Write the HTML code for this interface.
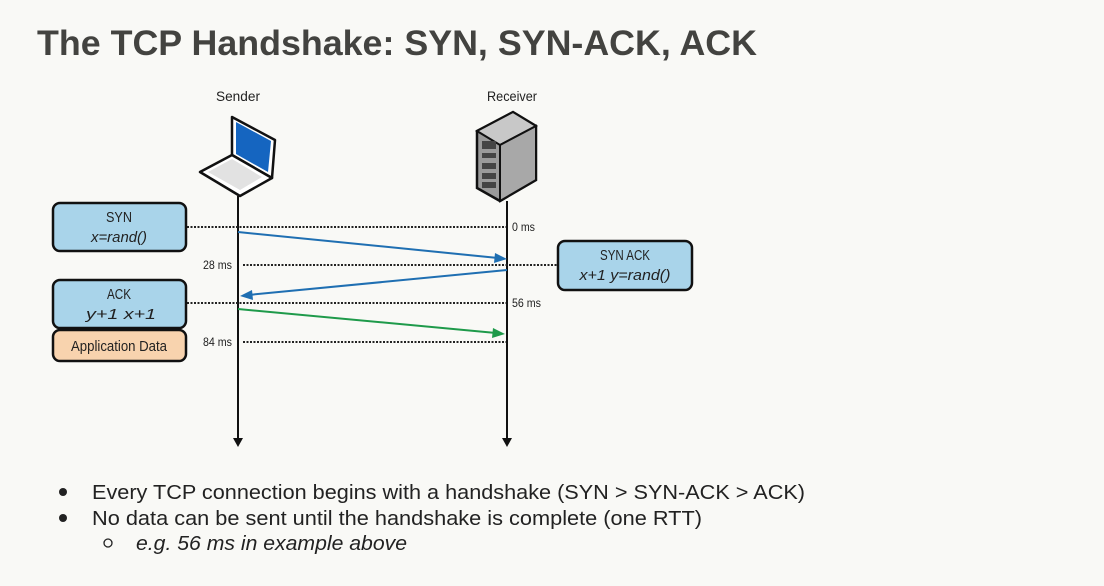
<!DOCTYPE html>
<html><head><meta charset="utf-8"><style>
html,body{margin:0;padding:0;background:#f9f9f6;}
svg{display:block}
text{font-family:"Liberation Sans",sans-serif;}
</style></head><body>
<svg width="1104" height="586" viewBox="0 0 1104 586" xmlns="http://www.w3.org/2000/svg">
<rect width="1104" height="586" fill="#f9f9f6"/>
<text x="37" y="55" font-size="35" font-weight="bold" fill="#434340" textLength="720" lengthAdjust="spacingAndGlyphs">The TCP Handshake: SYN, SYN-ACK, ACK</text>

<text x="238" y="101" font-size="14" fill="#222" text-anchor="middle" textLength="44" lengthAdjust="spacingAndGlyphs">Sender</text>
<text x="512" y="101" font-size="14" fill="#222" text-anchor="middle" textLength="50" lengthAdjust="spacingAndGlyphs">Receiver</text>

<!-- laptop -->
<polygon points="232,117 275,140 272,178 232,155" fill="#fff" stroke="#111" stroke-width="2.5" stroke-linejoin="round"/>
<polygon points="236,122 271,141 268,172 236,154" fill="#1565c0"/>
<polygon points="200,172 232,155 272,178 240,196" fill="#fff" stroke="#111" stroke-width="2.5" stroke-linejoin="round"/>
<polygon points="208,172 232,159 262,177 240,190" fill="#e2e2e2"/>
<!-- server -->
<polygon points="477,131 513,112 536,126 536,180 500,201 477,188" fill="#9a9a9a" stroke="#111" stroke-width="2.5"/>
<polygon points="477,131 513,112 536,126 500,145" fill="#c8c8c8" stroke="#111" stroke-width="2"/>
<polygon points="500,145 536,126 536,180 500,201" fill="#a8a8a8" stroke="#111" stroke-width="2"/>
<g fill="#444"><rect x="482" y="141" width="14" height="8"/><rect x="482" y="153" width="14" height="5"/><rect x="482" y="163" width="14" height="6"/><rect x="482" y="173" width="14" height="6"/><rect x="482" y="182" width="14" height="6"/></g>

<!-- lifelines -->
<line x1="238" y1="196" x2="238" y2="440" stroke="#111" stroke-width="2"/>
<polygon points="233,438 243,438 238,447" fill="#111"/>
<line x1="507" y1="201" x2="507" y2="440" stroke="#111" stroke-width="2"/>
<polygon points="502,438 512,438 507,447" fill="#111"/>

<!-- dotted -->
<g stroke="#222" stroke-width="2" stroke-dasharray="2,1.5">
<line x1="187" y1="227" x2="506" y2="227"/>
<line x1="243" y1="265" x2="557" y2="265"/>
<line x1="187" y1="303" x2="506" y2="303"/>
<line x1="243" y1="342" x2="506" y2="342"/>
</g>

<!-- arrows -->
<line x1="238" y1="232" x2="498" y2="258" stroke="#1f6fb2" stroke-width="2"/>
<polygon points="507,259 495,253 494,263" fill="#1f6fb2"/>
<line x1="507" y1="270" x2="248" y2="295" stroke="#1f6fb2" stroke-width="2"/>
<polygon points="240,296 252,290 253,300" fill="#1f6fb2"/>
<line x1="238" y1="309" x2="496" y2="333" stroke="#1e9a4a" stroke-width="2"/>
<polygon points="505,334 493,328 492,338" fill="#1e9a4a"/>

<!-- labels -->
<g font-size="12" fill="#222">
<text x="512" y="231" textLength="23" lengthAdjust="spacingAndGlyphs">0 ms</text>
<text x="232" y="269" text-anchor="end" textLength="29" lengthAdjust="spacingAndGlyphs">28 ms</text>
<text x="512" y="307" textLength="29" lengthAdjust="spacingAndGlyphs">56 ms</text>
<text x="232" y="346" text-anchor="end" textLength="29" lengthAdjust="spacingAndGlyphs">84 ms</text>
</g>

<!-- boxes -->
<g stroke="#111" stroke-width="2.5">
<rect x="53" y="203" width="133" height="48" rx="7" fill="#a9d4ea"/>
<rect x="53" y="280" width="133" height="48" rx="7" fill="#a9d4ea"/>
<rect x="53" y="330" width="133" height="31" rx="7" fill="#f8d3ae"/>
<rect x="558" y="241" width="134" height="49" rx="7" fill="#a9d4ea"/>
</g>
<g font-size="15" fill="#222" text-anchor="middle">
<text x="119" y="222" textLength="26" lengthAdjust="spacingAndGlyphs">SYN</text>
<text x="119" y="242" font-style="italic" textLength="56" lengthAdjust="spacingAndGlyphs">x=rand()</text>
<text x="119" y="299" textLength="24" lengthAdjust="spacingAndGlyphs">ACK</text>
<text x="121" y="319" font-style="italic" textLength="70" lengthAdjust="spacingAndGlyphs">y+1   x+1</text>
<text x="119" y="351" textLength="96" lengthAdjust="spacingAndGlyphs">Application Data</text>
<text x="625" y="260" textLength="50" lengthAdjust="spacingAndGlyphs">SYN ACK</text>
<text x="625" y="280" font-style="italic" textLength="91" lengthAdjust="spacingAndGlyphs">x+1   y=rand()</text>
</g>

<!-- bullets -->
<g font-size="20" fill="#222">
<circle cx="63" cy="492" r="4" fill="#222"/>
<text x="92" y="499" textLength="713" lengthAdjust="spacingAndGlyphs">Every TCP connection begins with a handshake (SYN &gt; SYN-ACK &gt; ACK)</text>
<circle cx="63" cy="518" r="4" fill="#222"/>
<text x="92" y="525" textLength="610" lengthAdjust="spacingAndGlyphs">No data can be sent until the handshake is complete (one RTT)</text>
<circle cx="108" cy="543" r="4" fill="none" stroke="#222" stroke-width="1.3"/>
<text x="136" y="550" font-style="italic" textLength="271" lengthAdjust="spacingAndGlyphs">e.g. 56 ms in example above</text>
</g>
</svg>
</body></html>
